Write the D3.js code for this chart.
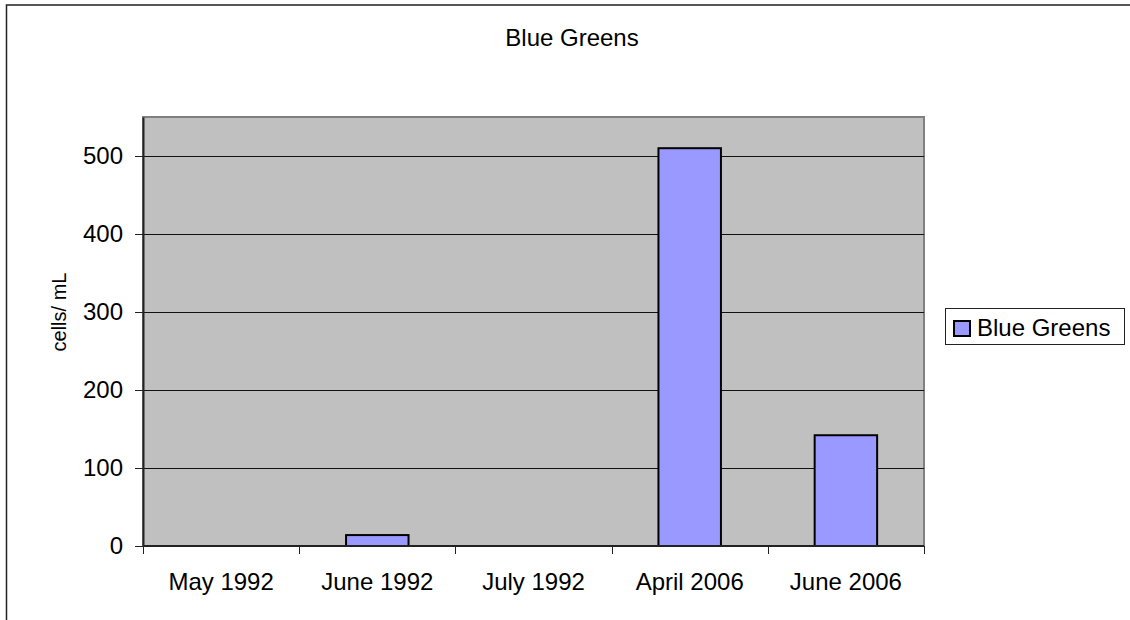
<!DOCTYPE html>
<html>
<head>
<meta charset="utf-8">
<script src="https://cdn.jsdelivr.net/npm/d3@7"></script>
<style>
  html, body { margin: 0; padding: 0; background: #fff; overflow: hidden; }
  svg { display: block; }
</style>
</head>
<body>
<div id="container"></div>
<script>
const categories = ['May 1992', 'June 1992', 'July 1992', 'April 2006', 'June 2006'];
const cellCounts = [0, 14, 0, 510, 142];
const yTicks = [0, 100, 200, 300, 400, 500];
const seriesName = 'Blue Greens';
const chartTitle = 'Blue Greens';
const yTitle = 'cells/ mL';

const width = 1130, height = 620;
const plot = { left: 143, right: 924, top: 117, bottom: 546 };
const font = 'Liberation Sans, Arial, sans-serif';
const fontSize = 24;

let svg = d3.select('#container')
    .append('svg')
    .attr('width', width)
    .attr('height', height);

// outer chart border (runs off the right and bottom edges)
svg.append('rect')
    .attr('x', 6.5).attr('y', 5)
    .attr('width', 1140).attr('height', 640)
    .attr('fill', '#fff')
    .attr('stroke', '#222')
    .attr('stroke-width', 1.5);

let x = d3.scaleBand()
    .domain(categories)
    .range([plot.left, plot.right])
    .paddingInner(0.6)
    .paddingOuter(0.3);

let xBand = d3.scaleBand()
    .domain(categories)
    .range([plot.left, plot.right]);

let y = d3.scaleLinear()
    .domain([0, 550])
    .range([plot.bottom, plot.top]);

// plot area
svg.append('rect')
    .attr('x', plot.left).attr('y', plot.top)
    .attr('width', plot.right - plot.left)
    .attr('height', plot.bottom - plot.top)
    .attr('fill', '#c0c0c0')
    .attr('stroke', '#808080')
    .attr('stroke-width', 2);

// gridlines
svg.append('g')
    .selectAll('line')
    .data(yTicks.filter(d => d > 0))
    .enter()
    .append('line')
    .attr('x1', plot.left).attr('x2', plot.right)
    .attr('y1', d => Math.round(y(d)) + 0.5)
    .attr('y2', d => Math.round(y(d)) + 0.5)
    .attr('stroke', '#111')
    .attr('stroke-width', 1);

// bars
svg.append('g')
    .selectAll('rect')
    .data(categories.map((c, i) => ({ cat: c, value: cellCounts[i] })).filter(d => d.value > 0))
    .enter()
    .append('rect')
    .attr('x', d => x(d.cat))
    .attr('y', d => y(d.value))
    .attr('width', x.bandwidth())
    .attr('height', d => y(0) - y(d.value))
    .attr('fill', '#9999ff')
    .attr('stroke', '#000')
    .attr('stroke-width', 2);

// y axis
let yAxis = svg.append('g')
    .attr('transform', `translate(${plot.left},0)`)
    .call(d3.axisLeft(y).tickValues(yTicks).tickSize(8).tickPadding(12).tickSizeOuter(0));
yAxis.select('.domain').attr('stroke', '#222').attr('stroke-width', 2);
yAxis.selectAll('.tick line').attr('stroke', '#222');
yAxis.selectAll('.tick text')
    .attr('font-family', font)
    .attr('font-size', fontSize)
    .attr('fill', '#000');

// x axis with ticks on category boundaries
let xAxis = svg.append('g')
    .attr('transform', `translate(0,${plot.bottom})`);
xAxis.append('line')
    .attr('x1', plot.left).attr('x2', plot.right)
    .attr('stroke', '#222').attr('stroke-width', 2);
let bounds = categories.map(c => xBand(c)).concat([plot.right]);
xAxis.selectAll('.xtick')
    .data(bounds)
    .enter()
    .append('line')
    .attr('x1', d => Math.round(d) + 0.5).attr('x2', d => Math.round(d) + 0.5)
    .attr('y1', 0).attr('y2', 8)
    .attr('stroke', '#222');
xAxis.selectAll('.xlabel')
    .data(categories)
    .enter()
    .append('text')
    .attr('x', d => xBand(d) + xBand.bandwidth() / 2)
    .attr('y', 44)
    .attr('text-anchor', 'middle')
    .attr('font-family', font)
    .attr('font-size', fontSize)
    .text(d => d);

// title
svg.append('text')
    .attr('x', 572).attr('y', 46)
    .attr('text-anchor', 'middle')
    .attr('font-family', font)
    .attr('font-size', fontSize)
    .text(chartTitle);

// y title
svg.append('text')
    .attr('transform', 'translate(66,312) rotate(-90)')
    .attr('text-anchor', 'middle')
    .attr('font-family', font)
    .attr('font-size', 20)
    .text(yTitle);

// legend
let legend = svg.append('g');
legend.append('rect')
    .attr('x', 945.5).attr('y', 308.5)
    .attr('width', 179).attr('height', 36)
    .attr('fill', '#fff')
    .attr('stroke', '#222');
legend.append('rect')
    .attr('x', 954).attr('y', 321)
    .attr('width', 16).attr('height', 15)
    .attr('fill', '#9999ff')
    .attr('stroke', '#000')
    .attr('stroke-width', 2);
legend.append('text')
    .attr('x', 977).attr('y', 336)
    .attr('font-family', font)
    .attr('font-size', fontSize)
    .text(seriesName);
</script>
</body>
</html>
